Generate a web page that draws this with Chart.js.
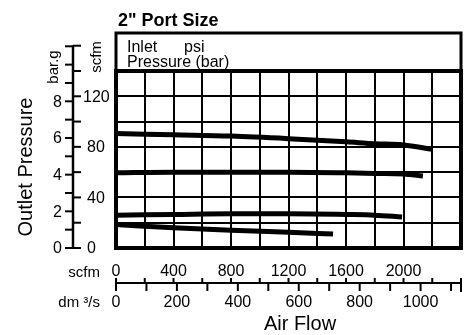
<!DOCTYPE html>
<html>
<head>
<meta charset="utf-8">
<script src="https://cdn.jsdelivr.net/npm/chart.js@4.4.1/dist/chart.umd.min.js"></script>
<style>
  body { margin: 0; background: #fff; }
  canvas { display: block; }
</style>
</head>
<body>
<canvas id="chart" width="467" height="335"></canvas>
<script>
// flow in scfm, outlet pressure in psi
const flowA = [0, 400, 800, 1200, 1600, 1800, 2000, 2200];
const psiA = [90.5, 89.5, 88.5, 86.5, 84, 82.5, 81.5, 78];
const flowB = [0, 400, 800, 1200, 1600, 1800, 2000, 2135];
const psiB = [59.5, 60, 60, 60, 59.5, 59, 58.5, 57];
const flowC = [0, 400, 800, 1200, 1600, 1800, 1990];
const psiC = [26, 26.5, 27, 27, 26.5, 26, 24.5];
const flowD = [0, 400, 800, 1200, 1510];
const psiD = [18.5, 16, 14, 12.5, 11];

// axis ticks
const barTicks = [0, 1, 2, 3, 4, 5, 6, 7, 8, 9, 10, 11];
const barLabels = [0, 2, 4, 6, 8];
const psiTicks = [0, 20, 40, 60, 80, 100, 120, 140, 160];
const psiLabels = [0, 40, 80, 120];
const scfmTicks = [0, 200, 400, 600, 800, 1000, 1200, 1400, 1600, 1800, 2000, 2200, 2400];
const scfmLabels = [0, 400, 800, 1200, 1600, 2000];
const dmTicks = [0, 100, 200, 300, 400, 500, 600, 700, 800, 900, 1000, 1100];
const dmLabels = [0, 200, 400, 600, 800, 1000];

const PSI_PER_BAR = 14.5038;
const SCFM_PER_DM3S = 2.11888;
const FONT = '"Liberation Sans", Arial, sans-serif';

const curves = [[flowA, psiA], [flowB, psiB], [flowC, psiC], [flowD, psiD]];

const frame = {
  id: 'frame',
  afterDraw(chart) {
    const ctx = chart.ctx;
    const { left, right, top, bottom } = chart.chartArea;
    const x = chart.scales.x;
    const y = chart.scales.y;
    ctx.save();
    ctx.strokeStyle = '#000';
    ctx.fillStyle = '#000';

    // plot frame and header box
    ctx.lineWidth = 4;
    ctx.strokeRect(left, top, right - left, bottom - top);
    ctx.lineWidth = 3;
    ctx.strokeRect(left, 33, right - left, top - 33);

    ctx.font = '16px ' + FONT;
    ctx.textAlign = 'left';
    ctx.textBaseline = 'alphabetic';
    ctx.fillText('Inlet', 127, 52);
    ctx.fillText('psi', 184, 52);
    ctx.fillText('Pressure (bar)', 127, 67);

    ctx.font = 'bold 18px ' + FONT;
    ctx.fillText('2" Port Size', 118, 26);

    // pressure axis: bar on the left, psi on the right
    const ax = 73;
    ctx.lineWidth = 2.5;
    ctx.beginPath();
    ctx.moveTo(ax, y.getPixelForValue(0) + 1);
    ctx.lineTo(ax, y.getPixelForValue(11 * PSI_PER_BAR) - 1);
    ctx.stroke();
    ctx.lineWidth = 2;
    barTicks.forEach(b => {
      const py = y.getPixelForValue(b * PSI_PER_BAR);
      ctx.beginPath();
      ctx.moveTo(ax - 8, py);
      ctx.lineTo(ax, py);
      ctx.stroke();
    });
    psiTicks.forEach(p => {
      const py = y.getPixelForValue(p);
      ctx.beginPath();
      ctx.moveTo(ax, py);
      ctx.lineTo(ax + 8, py);
      ctx.stroke();
    });
    ctx.font = '16px ' + FONT;
    ctx.textBaseline = 'middle';
    ctx.textAlign = 'right';
    barLabels.forEach(b => ctx.fillText(String(b), 62, y.getPixelForValue(b * PSI_PER_BAR) + 1));
    ctx.textAlign = 'left';
    psiLabels.forEach(p => ctx.fillText(String(p), p === 120 ? 83 : 87, y.getPixelForValue(p) + 1));

    // flow axis: scfm above, dm3/s below
    const ay = 283;
    ctx.lineWidth = 2;
    ctx.beginPath();
    ctx.moveTo(left, ay);
    ctx.lineTo(right, ay);
    ctx.stroke();
    scfmTicks.forEach(f => {
      const px = x.getPixelForValue(f);
      ctx.beginPath();
      ctx.moveTo(px, ay - 5);
      ctx.lineTo(px, ay);
      ctx.stroke();
    });
    dmTicks.forEach(d => {
      const px = x.getPixelForValue(d * SCFM_PER_DM3S);
      ctx.beginPath();
      ctx.moveTo(px, ay);
      ctx.lineTo(px, ay + 8);
      ctx.stroke();
    });
    ctx.beginPath();
    ctx.moveTo(right, ay - 5);
    ctx.lineTo(right, ay + 9);
    ctx.stroke();

    ctx.textAlign = 'center';
    ctx.textBaseline = 'alphabetic';
    scfmLabels.forEach(f => ctx.fillText(String(f), x.getPixelForValue(f), 276));
    dmLabels.forEach(d => ctx.fillText(String(d), x.getPixelForValue(d * SCFM_PER_DM3S), 307));

    ctx.font = '15px ' + FONT;
    ctx.textAlign = 'right';
    ctx.fillText('scfm', 100, 277);
    ctx.fillText('dm \u00b3/s', 100, 307);

    ctx.font = '20px ' + FONT;
    ctx.textAlign = 'center';
    ctx.fillText('Air Flow', 300, 330);

    // rotated axis titles
    const vtext = (txt, cx, cy, font) => {
      ctx.save();
      ctx.translate(cx, cy);
      ctx.rotate(-Math.PI / 2);
      ctx.font = font;
      ctx.textAlign = 'center';
      ctx.textBaseline = 'middle';
      ctx.fillText(txt, 0, 0);
      ctx.restore();
    };
    vtext('Outlet Pressure', 26, 167, '20px ' + FONT);
    vtext('bar.g', 54, 67, '15px ' + FONT);
    vtext('scfm', 97, 57, '15px ' + FONT);

    ctx.restore();
  }
};

new Chart(document.getElementById('chart').getContext('2d'), {
  type: 'line',
  data: {
    datasets: curves.map(([flow, psi]) => ({
      data: flow.map((f, i) => ({ x: f, y: psi[i] })),
      borderColor: '#000',
      borderWidth: 5,
      borderCapStyle: 'butt',
      pointRadius: 0,
      fill: false,
      cubicInterpolationMode: 'monotone'
    }))
  },
  options: {
    responsive: false,
    animation: false,
    layout: { padding: { left: 116, top: 71, right: 6, bottom: 87 } },
    plugins: { legend: { display: false }, tooltip: { enabled: false } },
    scales: {
      x: {
        type: 'linear', min: 0, max: 2400,
        ticks: { display: false, stepSize: 200 },
        grid: { color: '#000', lineWidth: 2, drawTicks: false },
        border: { display: false }
      },
      y: {
        min: 0, max: 140,
        ticks: { display: false, stepSize: 20 },
        grid: { color: '#000', lineWidth: 2, drawTicks: false },
        border: { display: false }
      }
    }
  },
  plugins: [frame]
});
</script>
</body>
</html>
